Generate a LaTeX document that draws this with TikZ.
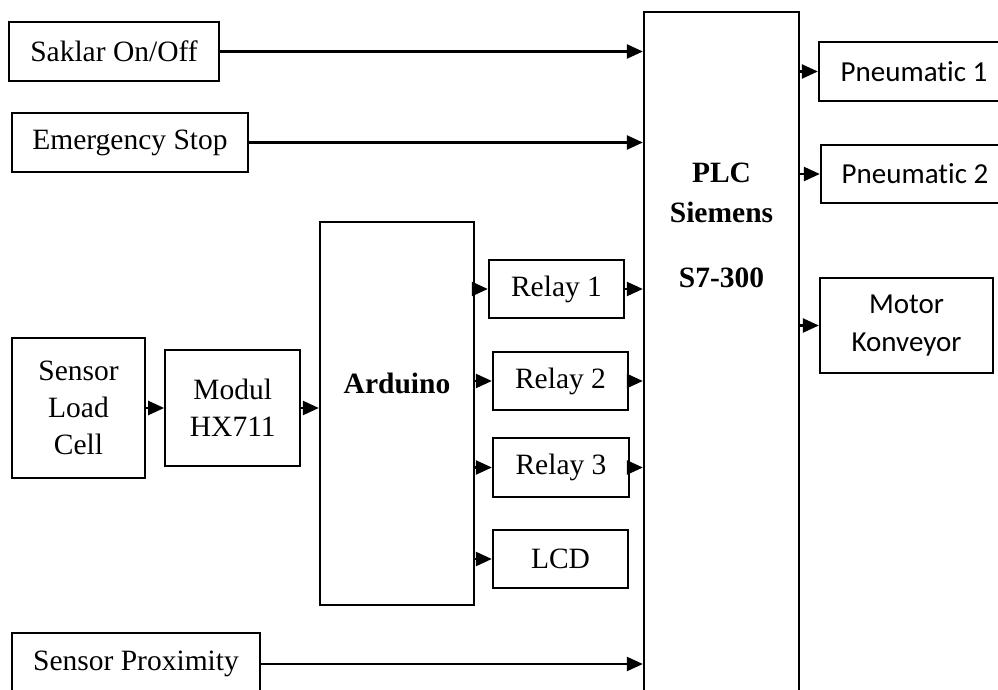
\documentclass[tikz,border=0pt]{standalone}
\usepackage{fontspec}
\setmainfont{Liberation Serif}
\newfontfamily\calibri[Ligatures=NoCommon]{Carlito}
\usetikzlibrary{arrows.meta,positioning}

\begin{document}
\begin{tikzpicture}[
    x=1pt, y=-1pt,
    node distance=18pt and 18pt,
    >={Triangle[length=16pt,width=14pt]},
    font=\fontsize{29.5}{37}\selectfont,
    blok/.style={draw, line width=2.3pt, inner sep=0pt, align=center},
    keluar/.style={blok, font=\calibri\fontsize{29}{38}\selectfont},
    panah/.style={->, line width=2.3pt}
]
\clip (0,0) rectangle (998,690);

\node[blok, minimum width=210pt, minimum height=59pt] (saklar) at (114,51.5) {Saklar On/Off};
\node[blok, minimum width=236pt, minimum height=59pt] (emg) at (130,142.5) {Emergency Stop};
\node[blok, minimum width=133pt, minimum height=140pt] (lc) at (78.5,408) {Sensor\\Load\\Cell};
\node[blok, minimum width=135pt, minimum height=116pt] (modul) [right=of lc] {Modul\\HX711};
\node[blok, minimum width=154pt, minimum height=383pt] (ard) at (397,413.5) {};
\node[font=\bfseries\fontsize{29.5}{37}\selectfont] (ardtxt) at (397,383) {Arduino};
\node[blok, minimum width=248pt, minimum height=62pt] (prox) at (136,664) {Sensor Proximity};

\node[blok, minimum width=135pt, minimum height=58pt] (r1) at (556.5,289) {Relay 1};
\node[blok, minimum width=135pt, minimum height=58pt] (r2) at (560.5,381) {Relay 2};
\node[blok, minimum width=136pt, minimum height=59pt] (r3) at (561,467.5) {Relay 3};
\node[blok, minimum width=135pt, minimum height=58pt] (lcd) at (560.5,559) {LCD};

\node[blok, minimum width=155pt, minimum height=708pt] (plc) at (721.5,366) {};
\node[align=center, font=\bfseries\fontsize{29.5}{40}\selectfont] (plctxt) at (721.5,225) {PLC\\Siemens\\[25pt]S7-300};

\node[keluar, minimum width=190pt, minimum height=59pt] (pn1) at (914,71.5) {Pneumatic 1};
\node[keluar, minimum width=188pt, minimum height=58pt] (pn2) at (915,174) {Pneumatic 2};
\node[keluar, minimum width=173pt, minimum height=95pt] (mk) at (906.5,325.5) {Motor\\Konveyor};

\draw[panah] (saklar.east) -- (saklar.east -| plc.west);
\draw[panah] (emg.east) -- (emg.east -| plc.west);
\draw[panah] (prox.east) -- (prox.east -| plc.west);
\draw[panah] (lc.east) -- (modul.west);
\draw[panah] (modul.east) -- (modul.east -| ard.west);
\foreach \r in {r1,r2,r3,lcd}
    \draw[panah] (\r.west -| ard.east) -- (\r.west);
\foreach \r in {r1,r2,r3}
    \draw[panah] (\r.east) -- (\r.east -| plc.west);
\foreach \o in {pn1,pn2,mk}
    \draw[panah] (\o.west -| plc.east) -- (\o.west);
\end{tikzpicture}
\end{document}
